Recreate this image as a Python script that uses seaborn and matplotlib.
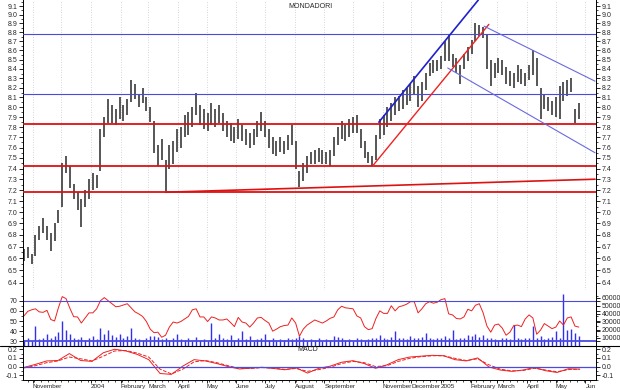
import pandas as pd
import matplotlib
matplotlib.use('Agg')
import matplotlib.pyplot as plt
import matplotlib.dates as mdates
from matplotlib.ticker import FixedLocator, FixedFormatter, NullFormatter
from matplotlib.lines import Line2D
import seaborn as sns

# price bars, one every 4 days (high / low)
price_high = [6.68, 6.70, 6.64, 6.80, 6.88, 6.95, 6.88, 6.82, 6.90, 7.02,
              7.45, 7.52, 7.42, 7.26, 7.18, 7.12, 7.20, 7.30, 7.36, 7.34,
              7.78, 7.90, 8.08, 8.02, 7.98, 8.10, 8.02, 8.08, 8.28, 8.24,
              8.14, 8.20, 8.10, 8.00, 7.86, 7.62, 7.68, 7.48, 7.62, 7.66,
              7.78, 7.80, 7.92, 7.95, 8.00, 8.15, 8.02, 7.98, 7.94, 8.04,
              7.98, 8.02, 7.94, 7.86, 7.84, 7.80, 7.88, 7.82, 7.78, 7.74,
              7.78, 7.86, 7.95, 7.86, 7.78, 7.70, 7.66, 7.70, 7.66, 7.72,
              7.82, 7.66, 7.38, 7.45, 7.52, 7.56, 7.58, 7.60, 7.58, 7.56,
              7.58, 7.70, 7.80, 7.86, 7.82, 7.88, 7.90, 7.92, 7.78, 7.66,
              7.56, 7.52, 7.72, 7.88, 7.92, 8.00, 8.04, 8.10, 8.12, 8.18,
              8.20, 8.24, 8.32, 8.22, 8.26, 8.36, 8.46, 8.50, 8.50, 8.54,
              8.70, 8.77, 8.56, 8.52, 8.44, 8.56, 8.64, 8.72, 8.90, 8.88,
              8.86, 8.78, 8.50, 8.46, 8.52, 8.50, 8.42, 8.38, 8.36, 8.44,
              8.40, 8.36, 8.44, 8.60, 8.52, 8.20, 8.14, 8.10, 8.06, 8.10,
              8.22, 8.26, 8.28, 8.30, 7.98, 8.04]
price_low = [6.58, 6.60, 6.55, 6.62, 6.76, 6.82, 6.76, 6.66, 6.75, 6.90,
             7.05, 7.36, 7.22, 7.12, 7.02, 6.87, 7.05, 7.12, 7.20, 7.22,
             7.38, 7.70, 7.84, 7.84, 7.82, 7.88, 7.86, 7.92, 8.05, 8.08,
             8.00, 8.04, 7.96, 7.85, 7.55, 7.42, 7.48, 7.19, 7.40, 7.44,
             7.56, 7.60, 7.70, 7.72, 7.80, 7.92, 7.82, 7.78, 7.76, 7.82,
             7.80, 7.84, 7.76, 7.70, 7.66, 7.64, 7.68, 7.66, 7.62, 7.60,
             7.62, 7.70, 7.76, 7.70, 7.60, 7.54, 7.52, 7.56, 7.54, 7.58,
             7.62, 7.40, 7.23, 7.28, 7.36, 7.44, 7.44, 7.46, 7.44, 7.44,
             7.42, 7.52, 7.62, 7.68, 7.66, 7.70, 7.74, 7.74, 7.60, 7.50,
             7.45, 7.42, 7.48, 7.68, 7.72, 7.80, 7.86, 7.92, 7.96, 7.98,
             8.02, 8.06, 8.14, 8.00, 8.06, 8.18, 8.32, 8.36, 8.38, 8.40,
             8.48, 8.48, 8.42, 8.36, 8.24, 8.40, 8.48, 8.56, 8.70, 8.76,
             8.74, 8.40, 8.22, 8.30, 8.36, 8.34, 8.24, 8.22, 8.20, 8.26,
             8.24, 8.22, 8.28, 8.34, 8.22, 7.88, 7.98, 7.96, 7.92, 7.90,
             7.88, 8.06, 8.12, 8.16, 7.84, 7.88]

rsi = [55, 59.5, 61, 62, 59, 58.5, 60.5, 51.5, 50, 63,
       74, 72, 62.5, 54.2, 54, 48, 53, 58, 58, 62,
       70, 73, 70, 67, 64, 64.5, 65.8, 67, 63, 59,
       57, 54.5, 49.5, 42, 38.5, 39, 34, 36, 44, 49,
       48, 49.5, 52, 54.5, 61, 62, 54, 54, 49.5, 54,
       53, 51, 51, 52, 48.5, 44.5, 53.5, 49, 48, 44,
       48, 53, 53.5, 50.5, 48, 40, 42, 44.4, 45.5, 46,
       53, 48, 35, 42, 46, 48.5, 51, 49.5, 48, 50,
       52.6, 54, 61, 64.5, 63, 62.5, 62, 55, 53, 44.4,
       41.5, 42.5, 52.6, 60, 57.5, 57.5, 65, 60, 64, 65,
       66.5, 69, 69, 58, 62, 67, 69, 67.5, 68.5, 71,
       72, 57, 56, 52.5, 52, 54, 61.5, 60, 65.5, 67,
       58, 45, 39, 46, 47, 43, 36, 39, 45.5, 46,
       44.5, 52, 56, 53, 37, 41, 47.5, 45, 42.5, 44,
       50, 46, 53, 54, 45, 44]

volume_k = [7, 9, 6, 24, 8, 10, 14, 9, 12, 17,
            31, 20, 14, 9, 8, 11, 7, 9, 12, 8,
            22, 15, 19, 13, 11, 14, 10, 12, 22, 9,
            8, 7, 10, 12, 12, 11, 8, 10, 7, 9,
            14, 8, 7, 9, 6, 11, 7, 8, 6, 28,
            9, 14, 10, 8, 13, 7, 9, 18, 8, 12,
            6, 8, 10, 14, 7, 9, 6, 8, 7, 9,
            8, 10, 12, 9, 6, 8, 7, 9, 6, 8,
            7, 12, 11, 9, 7, 8, 6, 9, 8, 7,
            8, 9, 10, 13, 9, 8, 11, 18, 9, 10,
            8, 12, 10, 9, 11, 16, 9, 8, 10, 9,
            12, 10, 19, 8, 10, 9, 13, 12, 14, 11,
            13, 10, 9, 8, 7, 10, 9, 8, 26, 9,
            8, 10, 9, 25, 10, 12, 8, 9, 11, 18,
            10, 65, 20, 21, 16, 12]

macd = [-0.01, 0.025, 0.065, 0.07, 0.15, 0.07, 0.06, 0.16, 0.20, 0.18,
        0.14, 0.08, -0.08, -0.09, 0.005, 0.08, 0.065, 0.035, 0.0, -0.028,
        -0.018, -0.008, -0.022, -0.037, -0.015, -0.075, -0.02, 0.005, 0.05, 0.068,
        0.035, -0.02, 0.02, 0.08, 0.11, 0.12, 0.13, 0.125, 0.08, 0.065,
        0.10, -0.005, -0.04, -0.055, -0.04, -0.01, -0.048, -0.068, -0.025, -0.03]
macd_signal = [-0.015, 0.01, 0.045, 0.065, 0.11, 0.09, 0.065, 0.12, 0.18, 0.185,
               0.155, 0.11, -0.03, -0.085, -0.03, 0.055, 0.07, 0.045, 0.01, -0.02,
               -0.022, -0.012, -0.018, -0.032, -0.022, -0.055, -0.035, -0.008, 0.035, 0.06,
               0.045, 0.0, 0.01, 0.06, 0.095, 0.115, 0.125, 0.125, 0.095, 0.07,
               0.09, 0.02, -0.03, -0.05, -0.045, -0.02, -0.04, -0.06, -0.035, -0.03]

bar_dates = pd.date_range('2003-10-23', periods=len(price_high), freq='4D')
macd_dates = pd.date_range('2003-10-23', '2005-05-26', periods=len(macd))

# support / resistance levels and trend lines
blue_levels = [8.78, 8.14]
red_levels = [7.83, 7.42, 7.18]
support_line = [('2004-03-19', 7.18), ('2005-06-11', 7.30)]
up_line_red = [('2004-10-22', 7.43), ('2005-02-20', 8.89)]
up_line_blue = [('2004-10-28', 7.85), ('2005-02-09', 9.17)]
down_upper = [('2005-02-15', 8.87), ('2005-06-11', 8.27)]
down_lower = [('2005-01-08', 8.41), ('2005-06-11', 7.55)]

tick_dates = ['2003-11-01', '2004-01-01', '2004-02-01', '2004-03-01', '2004-04-01',
              '2004-05-01', '2004-06-01', '2004-07-01', '2004-08-01', '2004-09-01',
              '2004-11-01', '2004-12-01', '2005-01-01', '2005-02-01', '2005-03-01',
              '2005-04-01', '2005-05-01', '2005-06-01']
tick_labels = ['November', '2004', 'February', 'March', 'April', 'May', 'June', 'July',
               'August', 'September', 'November', 'December', '2005', 'February',
               'March', 'April', 'May', 'Jun']
price_ticks = [round(6.4 + 0.1 * k, 1) for k in range(28)]

sns.set_theme(style='white')
plt.rcParams['font.family'] = ['Liberation Sans', 'DejaVu Sans']

fig = plt.figure(figsize=(6.2, 3.9), dpi=100)
L, W = 23 / 620, 573 / 620
ax_p = fig.add_axes([L, 1 - 290 / 390, W, 290 / 390])
ax_r = fig.add_axes([L, 1 - 345.7 / 390, W, 55.7 / 390], sharex=ax_p)
ax_v = ax_r.twinx()
ax_m = fig.add_axes([L, 1 - 380 / 390, W, 34.3 / 390], sharex=ax_p)

blue = '#4a4ae0'
red = '#dd1111'

# price panel
ax_p.set_yscale('log')
ax_p.set_ylim(6.34, 9.17)
ax_p.set_xlim(pd.Timestamp('2003-10-22'), pd.Timestamp('2005-06-12'))
for d in pd.date_range('2003-11-01', '2005-06-01', freq='MS'):
    ax_p.axvline(d, color='#c8c8c8', lw=0.6, ls=(0, (1, 2)), zorder=0)
ax_p.vlines(bar_dates, price_low, price_high, color='#3a3a3a', lw=1.2, zorder=2)
for p in blue_levels:
    ax_p.axhline(p, color=blue, lw=0.8, zorder=3)
for p in red_levels:
    ax_p.axhline(p, color=red, lw=1.3, zorder=3)


def draw_line(ax, pts, color, lw):
    xs = [pd.Timestamp(d) for d, _ in pts]
    ys = [v for _, v in pts]
    ax.plot(xs, ys, color=color, lw=lw, zorder=4)


draw_line(ax_p, support_line, red, 1.2)
draw_line(ax_p, up_line_red, '#ee2222', 1.0)
draw_line(ax_p, up_line_blue, '#2020cc', 1.2)
draw_line(ax_p, down_upper, '#6a6ae0', 0.8)
draw_line(ax_p, down_lower, '#6a6ae0', 0.8)

ax_p.yaxis.set_major_locator(FixedLocator(price_ticks))
ax_p.yaxis.set_major_formatter(FixedFormatter(['%.1f' % t for t in price_ticks]))
ax_p.yaxis.set_minor_locator(FixedLocator([t + 0.05 for t in price_ticks]))
ax_p.yaxis.set_minor_formatter(NullFormatter())

# RSI + volume panel
ax_v.vlines(bar_dates, 0, [v * 1000 for v in volume_k], color='#3030f0', lw=1.0)
ax_v.set_ylim(0, 69600)
ax_v.yaxis.set_major_locator(FixedLocator([10000, 20000, 30000, 40000, 50000, 60000]))
ax_v.yaxis.set_major_formatter(FixedFormatter(['10000', '20000', '30000', '40000', '50000', '60000']))
ax_r.set_zorder(ax_v.get_zorder() + 1)
ax_r.patch.set_visible(False)
sns.lineplot(x=bar_dates, y=rsi, ax=ax_r, color='#ee2020', lw=0.7)
ax_r.axhline(70, color=blue, lw=0.8)
ax_r.axhline(30, color=blue, lw=1.3)
ax_r.set_ylim(25.7, 80.5)
ax_r.yaxis.set_major_locator(FixedLocator([30, 40, 50, 60, 70]))
ax_r.yaxis.set_minor_locator(FixedLocator([35, 45, 55, 65, 75]))

# MACD panel
sns.lineplot(x=macd_dates, y=macd, ax=ax_m, color='#ee2020', lw=0.7)
sns.lineplot(x=macd_dates, y=macd_signal, ax=ax_m, color='#ee2020', lw=0.7, linestyle='--')
ax_m.axhline(0, color=blue, lw=0.9)
ax_m.set_ylim(-0.155, 0.241)
ax_m.yaxis.set_major_locator(FixedLocator([-0.1, 0.0, 0.1, 0.2]))
ax_m.yaxis.set_major_formatter(FixedFormatter(['-0.1', '0.0', '0.1', '0.2']))
ax_m.yaxis.set_minor_locator(FixedLocator([-0.15, -0.05, 0.05, 0.15]))

ax_m.xaxis.set_major_locator(FixedLocator(mdates.date2num(pd.to_datetime(tick_dates))))
ax_m.xaxis.set_major_formatter(FixedFormatter(tick_labels))
ax_m.xaxis.set_minor_locator(mdates.WeekdayLocator(byweekday=mdates.MO))
ax_m.tick_params(axis='x', which='major', bottom=True, length=2.5, width=0.6,
                 labelsize=4.6, pad=0.3, color='black')
ax_m.tick_params(axis='x', which='minor', bottom=True, length=1.5, width=0.5, color='black')
for lbl in ax_m.get_xticklabels():
    lbl.set_ha('left')

for ax in (ax_p, ax_r, ax_v, ax_m):
    ax.set_xlabel('')
    ax.set_ylabel('')
    for s in ax.spines.values():
        s.set_color('black')
        s.set_linewidth(0.7)
    ax.spines['top'].set_visible(False)
    if ax is not ax_m:
        ax.spines['bottom'].set_visible(False)
        ax.tick_params(axis='x', which='both', bottom=False, labelbottom=False)

for ax in (ax_p, ax_r, ax_m):
    ax.tick_params(axis='y', which='major', left=True, right=True, labelleft=True,
                   labelright=(ax is not ax_r), length=3, width=0.6, labelsize=5,
                   pad=1, color='black', direction='out')
    ax.tick_params(axis='y', which='minor', left=True, right=True, length=1.5,
                   width=0.5, color='black', direction='out')
ax_v.tick_params(axis='y', which='major', right=True, labelright=True, length=3,
                 width=0.6, labelsize=5, pad=1, color='black')

fig.add_artist(Line2D([0, 1], [1 - 345.7 / 390] * 2, color='black', lw=0.8))
fig.text(310 / 620, 1 - 6 / 390, 'MONDADORI', ha='center', va='center', fontsize=5)
fig.text(308 / 620, 1 - 349.5 / 390, 'MACD', ha='center', va='center', fontsize=5)

fig.savefig('out.png', dpi=100)
